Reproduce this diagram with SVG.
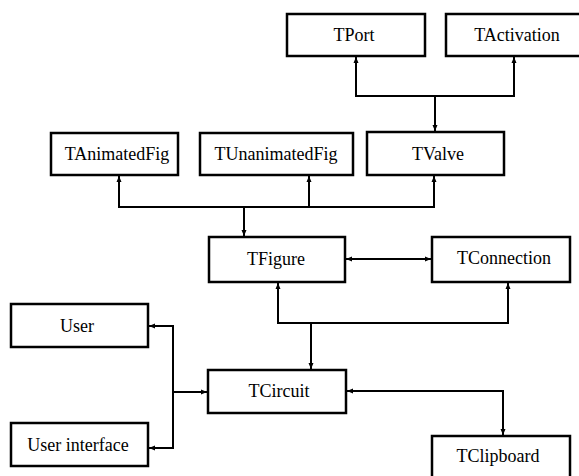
<svg xmlns="http://www.w3.org/2000/svg" width="579" height="476" viewBox="0 0 579 476">
<style>
.box{fill:#fff;stroke:#000;stroke-width:2.5}
.lbl{font-family:"Liberation Serif","Times New Roman",serif;font-size:18px;fill:#000;text-anchor:middle}
.ln{fill:none;stroke:#000;stroke-width:2}
</style>
<defs>
<marker id="ah" viewBox="0 0 6 6" refX="6" refY="3" markerWidth="6" markerHeight="6" markerUnits="userSpaceOnUse" orient="auto-start-reverse">
<path d="M0,0.5 L6,3 L0,5.5 z" fill="#000"/>
</marker>
</defs>
<rect width="579" height="476" fill="#fff"/>
<g id="connectors">
<path class="ln" d="M356,57 V96 H514 V57" marker-start="url(#ah)" marker-end="url(#ah)"/>
<path class="ln" d="M435,96 V131" marker-end="url(#ah)"/>
<path class="ln" d="M119,176 V207 H434 V176" marker-start="url(#ah)" marker-end="url(#ah)"/>
<path class="ln" d="M309,207 V176" marker-end="url(#ah)"/>
<path class="ln" d="M244,207 V236" marker-end="url(#ah)"/>
<path class="ln" d="M346,259 H431" marker-start="url(#ah)" marker-end="url(#ah)"/>
<path class="ln" d="M278,283 V323 H508 V283" marker-start="url(#ah)" marker-end="url(#ah)"/>
<path class="ln" d="M311,323 V369" marker-end="url(#ah)"/>
<path class="ln" d="M149,326 H173 V448 H149" marker-start="url(#ah)" marker-end="url(#ah)"/>
<path class="ln" d="M173,392 H207" marker-end="url(#ah)"/>
<path class="ln" d="M347,391 H503 V435" marker-start="url(#ah)" marker-end="url(#ah)"/>
</g>
<g id="TPort"><rect class="box" x="287" y="14" width="138" height="42"/><text class="lbl" x="354" y="41">TPort</text></g>
<g id="TActivation"><rect class="box" x="446" y="14" width="140" height="42"/><text class="lbl" x="517" y="41">TActivation</text></g>
<g id="TAnimatedFig"><rect class="box" x="51" y="133" width="127" height="42"/><text class="lbl" x="117" y="160">TAnimatedFig</text></g>
<g id="TUnanimatedFig"><rect class="box" x="200" y="133" width="153" height="42"/><text class="lbl" x="276" y="160">TUnanimatedFig</text></g>
<g id="TValve"><rect class="box" x="367" y="132" width="137" height="43"/><text class="lbl" x="438" y="160">TValve</text></g>
<g id="TFigure"><rect class="box" x="209" y="237" width="136" height="45"/><text class="lbl" x="276" y="265">TFigure</text></g>
<g id="TConnection"><rect class="box" x="432" y="237" width="138" height="45"/><text class="lbl" x="504" y="264">TConnection</text></g>
<g id="User"><rect class="box" x="11" y="304" width="137" height="43"/><text class="lbl" x="77" y="332">User</text></g>
<g id="TCircuit"><rect class="box" x="208" y="370" width="138" height="43"/><text class="lbl" x="279" y="397">TCircuit</text></g>
<g id="UserInterface"><rect class="box" x="11" y="423" width="137" height="43"/><text class="lbl" x="78" y="451">User interface</text></g>
<g id="TClipboard"><rect class="box" x="432" y="436" width="138" height="44"/><text class="lbl" x="498" y="462">TClipboard</text></g>
</svg>
